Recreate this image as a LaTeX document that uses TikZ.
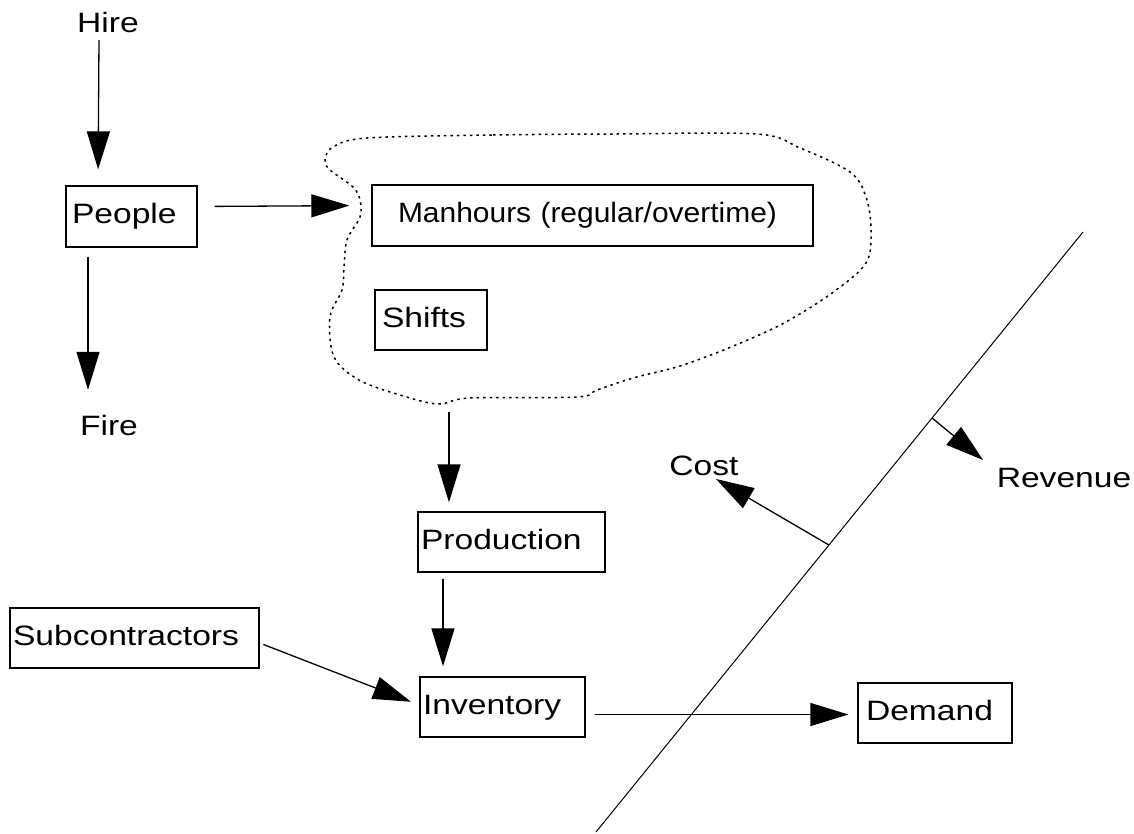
\documentclass[tikz,border=0pt]{standalone}
\usepackage{fontspec}
\setmainfont{Liberation Sans}[FakeStretch=1.2]
\newfontfamily\narrowsans{Liberation Sans}[FakeStretch=1.07]
\usetikzlibrary{arrows.meta,calc}

\tikzset{
  every node/.style={font=\fontsize{28}{32}\selectfont, text height=20pt, text depth=6pt},
  box/.style={draw, line width=1.3pt, align=left, inner ysep=0pt},
  lbl/.style={inner sep=0pt},
  flow/.style={line width=1.3pt, -{Triangle[length=38pt,width=23pt]}},
  cloudline/.style={line width=1.5pt, dash pattern=on 2.5pt off 4pt},
  divider/.style={line width=1pt}
}

\begin{document}
\begin{tikzpicture}[x=1pt, y=-1pt]
\useasboundingbox (0,0) rectangle (1134,834);

% free labels
\node[lbl] (hire) at (108,26) {Hire};
\node[lbl] (fire) at (109,428) {Fire};
\node[lbl] (cost) at (704,468) {Cost};
\node[lbl] (revenue) at (1064,480) {Revenue};

% boxes
\node[box, minimum width=131pt, minimum height=61pt, inner xsep=6pt, text width=119pt] (people) at (131.5,216.5) {People};
\node[box, minimum width=441pt, minimum height=61pt, inner xsep=26pt, text width=389pt] (manh) at (592.5,215.5) {\narrowsans Manhours (regular/overtime)};
\node[box, minimum width=112pt, minimum height=60pt, inner xsep=7pt, text width=98pt] (shifts) at (431,320) {Shifts};
\node[box, minimum width=187pt, minimum height=60pt, inner xsep=3pt, text width=181pt] (prod) at (511.5,542) {Production};
\node[box, minimum width=249pt, minimum height=60pt, inner xsep=3pt, text width=243pt] (sub) at (134.5,638) {Subcontractors};
\node[box, minimum width=165pt, minimum height=60pt, inner xsep=3pt, text width=159pt] (inv) at (502.5,707) {Inventory};
\node[box, minimum width=154pt, minimum height=60pt, inner xsep=8pt, text width=138pt] (dem) at (935,713) {Demand};

% dotted outline around the labour group
\draw[cloudline] plot[smooth cycle, tension=0.55] coordinates {
  (367,138) (493,135) (617,134) (757,134) (800,148) (850,172) (866,197)
  (871,230) (866,263) (832,293) (784,323) (731,347) (680,366) (633,378)
  (597,390) (577,397) (470,398) (438,404) (400,395) (359,380) (334,357)
  (330,317) (342,290) (344,267) (347,240) (360,217) (360,200) (353,187)
  (330,170) (325,160) (333,147)};
\coordinate (cloudfoot) at (449,404);

% dividing line with its two sides
\coordinate (dtop) at (1083,232);
\coordinate (dbot) at (596,832);
\draw[divider] (dtop) -- (dbot);
\coordinate (costfoot) at ($(dtop)!0.5217!(dbot)$);
\coordinate (revfoot) at ($(dtop)!0.31!(dbot)$);
\coordinate (costtip) at (716,479);
\coordinate (revtip) at (983,460);

% flows
\draw[flow, shorten <=1pt, shorten >=16pt] ([xshift=-9pt]hire.south) -- ([xshift=-33.5pt]people.north);
\draw[flow, shorten <=9pt, shorten >=25pt] ([xshift=-43.5pt]people.south) -- ([xshift=-21pt]fire.north);
\draw[flow, shorten <=17pt, shorten >=22pt] ([yshift=10pt]people.east) -- ([yshift=10pt]manh.west);
\draw[flow, shorten <=8pt, shorten >=9pt] (cloudfoot) -- (cloudfoot |- prod.north);
\draw[flow, shorten <=6pt, shorten >=10pt] ([xshift=-68.5pt]prod.south) -- ([xshift=-59.5pt]inv.north);
\draw[flow, shorten <=4pt, shorten >=9pt] ([yshift=-5pt]sub.east) -- ([yshift=2pt]inv.west);
\draw[flow, shorten <=9pt, shorten >=9pt] ([yshift=-7.5pt]inv.east) -- ([yshift=-1.5pt]dem.west);
\draw[flow] (costfoot) -- (costtip);
\draw[flow] (revfoot) -- (revtip);
\end{tikzpicture}
\end{document}
